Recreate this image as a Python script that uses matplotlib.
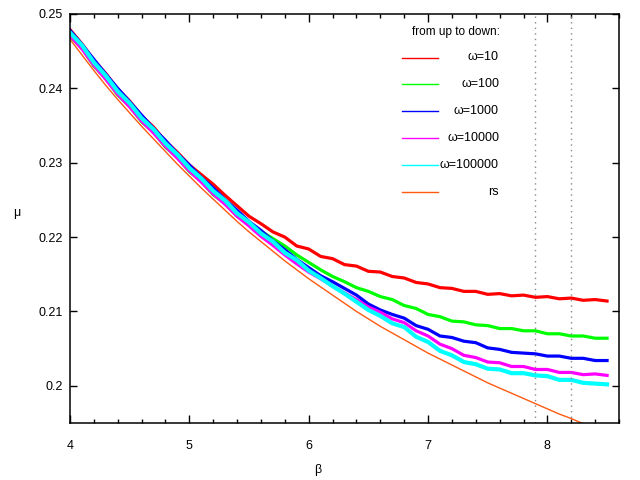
import matplotlib
matplotlib.use('Agg')
import matplotlib.pyplot as plt
from matplotlib.lines import Line2D
from matplotlib.ticker import MultipleLocator

plt.rcParams['font.family'] = ['Liberation Sans', 'DejaVu Sans']

# beta grid (sampling positions of the curves)
beta = [4.0, 4.1, 4.2, 4.3, 4.4, 4.5, 4.6, 4.7, 4.8, 4.9,
        5.0, 5.1, 5.2, 5.3, 5.4, 5.5, 5.6, 5.7, 5.8, 5.9,
        6.0, 6.1, 6.2, 6.3, 6.4, 6.5, 6.6, 6.7, 6.8, 6.9,
        7.0, 7.1, 7.2, 7.3, 7.4, 7.5, 7.6, 7.7, 7.8, 7.9,
        8.0, 8.1, 8.2, 8.3, 8.4, 8.5]

# mu for each omega
mu_w10 = [.2479, .2460, .2438, .2420, .2399, .2383, .2363, .2348, .2329, .2314,
          .2297, .2284, .2271, .2256, .2242, .2228, .2218, .2207, .2200, .2188,
          .2184, .2174, .2171, .2163, .2161, .2154, .2153, .2147, .2145, .2139,
          .2137, .2132, .2131, .2127, .2127, .2123, .2124, .2121, .2122, .2119,
          .2120, .2117, .2118, .2115, .2116, .2114]
mu_w100 = [.2470, .2454, .2430, .2413, .2391, .2376, .2355, .2341, .2321, .2307,
           .2288, .2275, .2257, .2245, .2228, .2217, .2208, .2198, .2188, .2176,
           .2166, .2156, .2147, .2140, .2132, .2127, .2120, .2116, .2108, .2104,
           .2096, .2093, .2087, .2086, .2082, .2081, .2077, .2077, .2074, .2074,
           .2070, .2070, .2067, .2067, .2064, .2064]
mu_w1000 = [.2478, .2459, .2439, .2419, .2400, .2382, .2364, .2346, .2330, .2312,
            .2297, .2280, .2266, .2250, .2236, .2221, .2209, .2195, .2183, .2170,
            .2159, .2148, .2140, .2131, .2122, .2110, .2102, .2096, .2091, .2081,
            .2076, .2067, .2065, .2060, .2058, .2051, .2049, .2045, .2044, .2043,
            .2040, .2040, .2037, .2037, .2034, .2034]
mu_w10000 = [.2471, .2453, .2431, .2412, .2392, .2375, .2356, .2340, .2322, .2306,
             .2289, .2274, .2258, .2244, .2228, .2215, .2201, .2189, .2176, .2164,
             .2153, .2144, .2134, .2125, .2116, .2106, .2099, .2090, .2085, .2074,
             .2067, .2056, .2050, .2041, .2038, .2032, .2031, .2026, .2026, .2022,
             .2022, .2018, .2018, .2015, .2016, .2014]
mu_w100000 = [.2475, .2458, .2435, .2417, .2396, .2380, .2360, .2345, .2326, .2311,
              .2293, .2279, .2262, .2249, .2232, .2220, .2205, .2194, .2179, .2169,
              .2155, .2145, .2134, .2124, .2113, .2102, .2094, .2084, .2079, .2066,
              .2059, .2047, .2041, .2032, .2029, .2023, .2022, .2017, .2017, .2014,
              .2013, .2008, .2008, .2004, .2003, .2002]
mu_rs = [.2466, .2445, .2424, .2404, .2385, .2367, .2349, .2332, .2315, .2298,
         .2282, .2266, .2251, .2236, .2221, .2207, .2194, .2181, .2168, .2156,
         .2144, .2133, .2122, .2111, .2100, .2090, .2080, .2071, .2062, .2053,
         .2044, .2036, .2028, .2020, .2012, .2004, .1997, .1990, .1983, .1976,
         .1969, .1962, .1956, .1949, .1943, .1937]

labels = ['ω=10', 'ω=100', 'ω=1000', 'ω=10000', 'ω=100000', 'rs']
colors = ['#ff0000', '#00ff00', '#0000ff', '#ff00ff', '#00ffff', '#ff5a10']
series = [mu_w10, mu_w100, mu_w1000, mu_w10000, mu_w100000, mu_rs]

yticks = [0.2, 0.21, 0.22, 0.23, 0.24, 0.25]
ytick_labels = ['0.2', '0.21', '0.22', '0.23', '0.24', '0.25']
xticks = [4, 5, 6, 7, 8]
vlines = [7.9, 8.2]

fig = plt.figure(figsize=(6.4, 4.8), dpi=100)
ax = fig.add_axes([70 / 640, 1 - 423 / 480, 549 / 640, 409 / 480])

widths = [2.3, 2.3, 2.3, 2.3, 3.0, 1.0]
for ys, c, w in zip(series, colors, widths):
    ax.plot(beta, ys, color=c, lw=w, solid_joinstyle='miter')

for xv in vlines:
    ax.axvline(xv, color='#888888', ls=(0, (1, 3)), lw=1.0)

ax.set_xlim(4, 8.6)
ax.set_ylim(0.195, 0.25)
ax.set_xticks(xticks)
ax.set_xticklabels([str(v) for v in xticks])
ax.xaxis.set_minor_locator(MultipleLocator(0.2))
ax.set_yticks(yticks)
ax.set_yticklabels(ytick_labels)
ax.tick_params(which='both', direction='in', top=True, right=True,
               labelsize=9, width=1.0)
ax.tick_params(axis='x', which='major', length=6, pad=12)
ax.tick_params(axis='x', which='minor', length=3)
ax.tick_params(axis='y', which='major', length=5, pad=5)
for s in ax.spines.values():
    s.set_linewidth(1.1)

fig.text(318 / 640, 1 - 470 / 480, 'β', ha='center', va='center', fontsize=9)
fig.text(17 / 640, 1 - 213 / 480, 'μ', ha='center', va='center', fontsize=9)

# legend, gnuplot style
fig.text(500 / 640, 1 - 32 / 480, 'from up to down:', ha='right', va='center', fontsize=8.5)
for i, (lab, c) in enumerate(zip(labels, colors)):
    py = 57.5 + i * 26.9
    yf = 1 - py / 480
    fig.add_artist(Line2D([402 / 640, 438 / 640], [yf, yf], color=c, lw=1.0,
                          transform=fig.transFigure))
    fig.text(499 / 640, yf, lab, ha='right', va='center', fontsize=9)

fig.savefig('out.png', dpi=100)
